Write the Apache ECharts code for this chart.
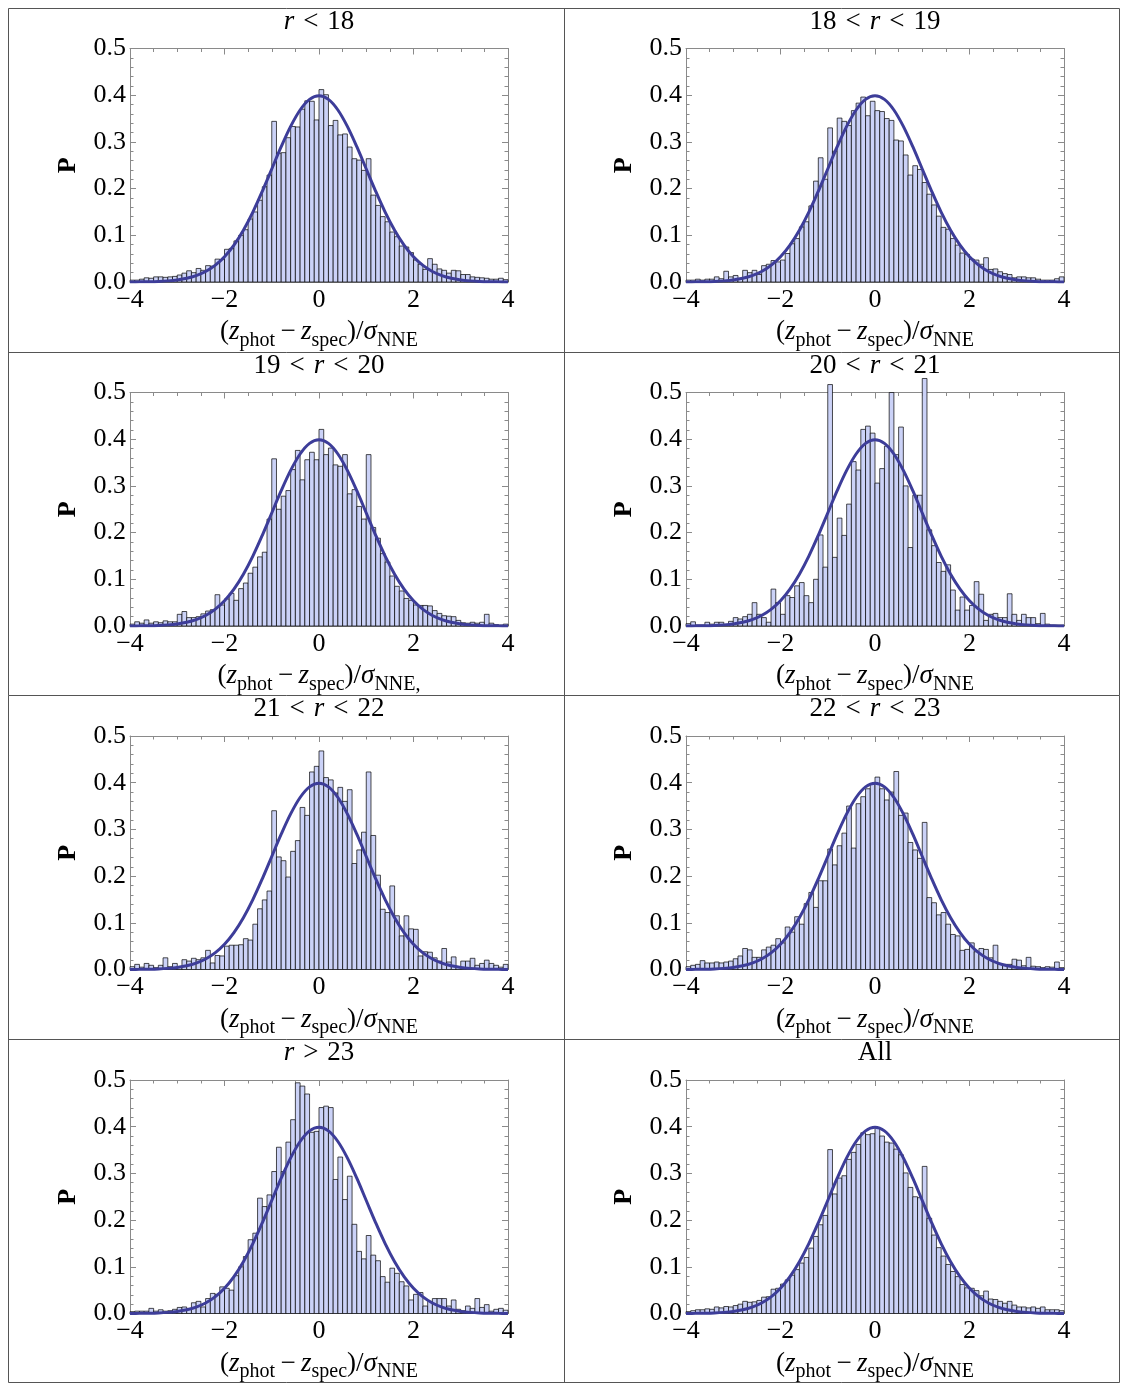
<!DOCTYPE html>
<html><head><meta charset="utf-8">
<script src="https://cdn.jsdelivr.net/npm/echarts/dist/echarts.min.js"></script>
<style>html,body{margin:0;padding:0;background:#fff}#c{width:1128px;height:1391px}</style>
</head><body><div id="c"></div>
<script>
// ---- data ----
const binStart = -4, binWidth = 0.1, binCount = 80;
const panelTitles = ['{i|r}\u2004<\u200418', '18\u2004<\u2004{i|r}\u2004<\u200419', '19\u2004<\u2004{i|r}\u2004<\u200420', '20\u2004<\u2004{i|r}\u2004<\u200421',
                     '21\u2004<\u2004{i|r}\u2004<\u200422', '22\u2004<\u2004{i|r}\u2004<\u200423', '{i|r}\u2004>\u200423', 'All'];
const xLabelSuffix = ['', '', ',', '', '', '', '', ''];
const xTicks = [-4, -2, 0, 2, 4];
const yTicks = [0, 0.1, 0.2, 0.3, 0.4, 0.5];

const histR18 = [
0.004,0.004,0.006,0.009,0.008,0.011,0.011,0.010,0.011,0.012,
0.015,0.019,0.024,0.020,0.029,0.025,0.035,0.034,0.049,0.048,
0.070,0.072,0.088,0.100,0.112,0.135,0.150,0.175,0.204,0.229,
0.344,0.276,0.277,0.309,0.333,0.332,0.370,0.388,0.387,0.347,
0.412,0.401,0.335,0.346,0.315,0.317,0.289,0.264,0.261,0.239,
0.264,0.186,0.164,0.140,0.129,0.107,0.097,0.077,0.075,0.063,
0.047,0.038,0.027,0.050,0.038,0.028,0.025,0.019,0.025,0.024,
0.016,0.016,0.011,0.010,0.009,0.008,0.006,0.006,0.008,0.005];
const histR18to19 = [
0.004,0.004,0.006,0.004,0.006,0.006,0.011,0.007,0.023,0.011,
0.014,0.007,0.025,0.020,0.025,0.016,0.035,0.038,0.046,0.043,
0.047,0.061,0.082,0.093,0.118,0.129,0.163,0.216,0.266,0.220,
0.330,0.280,0.351,0.344,0.335,0.367,0.383,0.396,0.356,0.387,
0.367,0.365,0.350,0.346,0.304,0.302,0.272,0.229,0.249,0.241,
0.213,0.188,0.165,0.141,0.117,0.113,0.093,0.079,0.062,0.059,
0.049,0.047,0.038,0.052,0.027,0.028,0.022,0.018,0.016,0.009,
0.011,0.011,0.009,0.009,0.006,0.004,0.004,0.004,0.007,0.011];
const histR19to20 = [
0.004,0.009,0.006,0.013,0.006,0.009,0.007,0.011,0.009,0.009,
0.025,0.031,0.018,0.018,0.020,0.026,0.032,0.035,0.067,0.045,
0.058,0.070,0.055,0.080,0.092,0.113,0.126,0.148,0.158,0.229,
0.358,0.250,0.278,0.290,0.335,0.376,0.313,0.356,0.372,0.356,
0.421,0.367,0.381,0.345,0.342,0.367,0.283,0.292,0.256,0.229,
0.367,0.211,0.188,0.155,0.137,0.107,0.085,0.075,0.059,0.055,
0.045,0.044,0.044,0.043,0.033,0.027,0.022,0.021,0.020,0.012,
0.007,0.006,0.008,0.006,0.008,0.025,0.006,0.003,0.002,0.004];
const histR20to21 = [
0.005,0.009,0.002,0.002,0.008,0.004,0.008,0.008,0.003,0.010,
0.018,0.015,0.020,0.025,0.050,0.025,0.018,0.008,0.079,0.050,
0.025,0.065,0.061,0.086,0.093,0.065,0.050,0.100,0.195,0.126,
0.517,0.147,0.231,0.194,0.261,0.352,0.334,0.421,0.428,0.413,
0.306,0.337,0.385,0.500,0.367,0.426,0.300,0.168,0.280,0.280,
0.530,0.206,0.172,0.136,0.117,0.131,0.077,0.034,0.062,0.034,
0.044,0.095,0.068,0.012,0.025,0.027,0.018,0.018,0.069,0.025,
0.012,0.025,0.018,0.018,0.005,0.027,0.004,0.002,0.002,0.002];
const histR21to22 = [
0.006,0.011,0.005,0.013,0.009,0.004,0.009,0.025,0.006,0.013,
0.006,0.021,0.018,0.024,0.021,0.025,0.041,0.014,0.030,0.029,
0.050,0.052,0.052,0.053,0.066,0.063,0.097,0.130,0.149,0.168,
0.340,0.241,0.233,0.198,0.253,0.276,0.347,0.330,0.423,0.435,
0.468,0.411,0.406,0.378,0.390,0.360,0.385,0.227,0.256,0.294,
0.423,0.287,0.202,0.129,0.122,0.179,0.115,0.072,0.115,0.087,
0.086,0.029,0.038,0.037,0.025,0.018,0.045,0.016,0.027,0.005,
0.018,0.018,0.024,0.009,0.013,0.020,0.013,0.009,0.005,0.011];
const histR22to23 = [
0.006,0.009,0.011,0.019,0.014,0.014,0.016,0.014,0.016,0.018,
0.023,0.029,0.045,0.042,0.026,0.026,0.042,0.048,0.052,0.066,
0.057,0.091,0.080,0.113,0.097,0.141,0.165,0.133,0.190,0.190,
0.258,0.224,0.265,0.292,0.350,0.260,0.355,0.370,0.387,0.398,
0.412,0.387,0.363,0.380,0.424,0.330,0.335,0.272,0.256,0.238,
0.315,0.154,0.143,0.117,0.122,0.097,0.075,0.072,0.041,0.043,
0.057,0.038,0.045,0.043,0.025,0.052,0.012,0.011,0.011,0.022,
0.020,0.008,0.026,0.007,0.006,0.004,0.006,0.005,0.016,0.004];
const histR23 = [
0.004,0.005,0.005,0.005,0.011,0.005,0.008,0.005,0.006,0.009,
0.013,0.014,0.009,0.023,0.026,0.014,0.032,0.043,0.041,0.057,
0.054,0.050,0.081,0.100,0.122,0.158,0.172,0.247,0.229,0.254,
0.304,0.356,0.304,0.367,0.415,0.494,0.487,0.470,0.388,0.390,
0.441,0.444,0.441,0.287,0.335,0.244,0.294,0.191,0.133,0.117,
0.167,0.125,0.113,0.079,0.067,0.097,0.086,0.068,0.059,0.029,
0.041,0.045,0.016,0.026,0.032,0.032,0.032,0.016,0.029,0.009,
0.006,0.016,0.011,0.032,0.013,0.019,0.005,0.009,0.011,0.007];
const histAll = [
0.004,0.006,0.008,0.008,0.010,0.009,0.014,0.012,0.015,0.014,
0.017,0.020,0.026,0.024,0.025,0.028,0.035,0.036,0.052,0.054,
0.063,0.072,0.082,0.094,0.108,0.120,0.140,0.165,0.190,0.210,
0.351,0.256,0.290,0.295,0.330,0.345,0.362,0.387,0.383,0.385,
0.398,0.380,0.367,0.365,0.352,0.340,0.301,0.270,0.250,0.248,
0.315,0.204,0.168,0.141,0.123,0.105,0.090,0.079,0.062,0.055,
0.054,0.049,0.038,0.048,0.031,0.030,0.026,0.022,0.026,0.018,
0.014,0.014,0.012,0.014,0.011,0.014,0.008,0.008,0.008,0.006];

const curveX = [-4.0,-3.8,-3.6,-3.4,-3.2,-3.0,-2.8,-2.6,-2.4,-2.2,-2.0,-1.8,-1.6,-1.4,-1.2,-1.0,-0.8,-0.6,-0.4,-0.2,
                0.0,0.2,0.4,0.6,0.8,1.0,1.2,1.4,1.6,1.8,2.0,2.2,2.4,2.6,2.8,3.0,3.2,3.4,3.6,3.8,4.0];
const curveY = [0.0001,0.0003,0.0006,0.0012,0.0024,0.0044,0.0079,0.0136,0.0224,0.0355,0.0540,0.0790,0.1109,0.1497,0.1942,0.2420,0.2897,0.3332,0.3683,0.3910,
                0.3989,0.3910,0.3683,0.3332,0.2897,0.2420,0.1942,0.1497,0.1109,0.0790,0.0540,0.0355,0.0224,0.0136,0.0079,0.0044,0.0024,0.0012,0.0006,0.0003,0.0001];

const panelHists = [histR18, histR18to19, histR19to20, histR20to21, histR21to22, histR22to23, histR23, histAll];

// ---- layout / style ----
const FONT = 'Liberation Serif';
const colLeft = [130, 686], plotW = 378;
const rowTop = [48.5, 392.5, 736, 1080], plotH = 233.5;
const frameColor = '#8a8a8a';
const barFill = '#cbd2f7';
const curveColor = '#3d3d99';

const chart = echarts.init(document.getElementById('c'), null, {renderer: 'canvas'});
const option = {animation: false, backgroundColor: '#fff', grid: [], xAxis: [], yAxis: [], series: [], graphic: []};

function axisCommon() {
  return {
    axisLine: {show: true, onZero: false, lineStyle: {color: frameColor, width: 1}},
    splitLine: {show: false}, minorSplitLine: {show: false}
  };
}

panelHists.forEach((vals, k) => {
  const r = Math.floor(k / 2), c = k % 2;
  option.grid.push({left: colLeft[c], top: rowTop[r], width: plotW, height: plotH});
  const xBase = {gridIndex: k, type: 'value', min: xTicks[0], max: xTicks[xTicks.length - 1], interval: xTicks[1] - xTicks[0],
    axisTick: {show: true, inside: true, length: 6, lineStyle: {color: frameColor}},
    minorTick: {show: true, splitNumber: 4, length: 3.5, lineStyle: {color: frameColor}}, ...axisCommon()};
  option.xAxis.push(Object.assign({}, xBase, {position: 'bottom',
    axisLabel: {show: true, margin: 5, fontFamily: FONT, fontSize: 26, color: '#000', showMinLabel: true, showMaxLabel: true,
      formatter: v => String(v).replace('-', '\u2212')}}));
  option.xAxis.push(Object.assign({}, xBase, {position: 'top', axisLabel: {show: false}}));
  const yBase = {gridIndex: k, type: 'value', min: yTicks[0], max: yTicks[yTicks.length - 1], interval: yTicks[1] - yTicks[0],
    axisTick: {show: true, inside: true, length: 6, lineStyle: {color: frameColor}},
    minorTick: {show: true, splitNumber: 5, length: 3.5, lineStyle: {color: frameColor}}, ...axisCommon()};
  option.yAxis.push(Object.assign({}, yBase, {position: 'left',
    axisLabel: {show: true, margin: 4, fontFamily: FONT, fontSize: 26, color: '#000', showMinLabel: true, showMaxLabel: true,
      formatter: v => v.toFixed(1)}}));
  option.yAxis.push(Object.assign({}, yBase, {position: 'right', axisLabel: {show: false}}));

  const data = vals.map((v, i) => [binStart + i * binWidth, v]);
  option.series.push({
    type: 'custom', xAxisIndex: 2 * k, yAxisIndex: 2 * k, clip: false, z: 2,
    data: data,
    renderItem: (params, api) => {
      const x0 = api.value(0), v = api.value(1);
      const p0 = api.coord([x0, 0]);
      const p1 = api.coord([x0 + binWidth, v]);
      return {type: 'rect', shape: {x: p0[0], y: p1[1], width: p1[0] - p0[0], height: p0[1] - p1[1]},
        style: {fill: barFill, stroke: 'rgba(0,0,0,0.78)', lineWidth: 0.9}};
    }
  });
  option.series.push({
    type: 'line', xAxisIndex: 2 * k, yAxisIndex: 2 * k, z: 5,
    data: curveX.map((x, i) => [x, curveY[i]]),
    smooth: 0.35, showSymbol: false, symbol: 'none',
    lineStyle: {color: curveColor, width: 3}
  });

  const cx = colLeft[c] + plotW / 2;
  const top = rowTop[r];
  option.graphic.push({type: 'text', x: cx, y: top - 27, silent: true,
    style: {text: panelTitles[k], fontFamily: FONT, fontSize: 27, fill: '#000', align: 'center', verticalAlign: 'middle',
      rich: {i: {fontFamily: FONT, fontSize: 27, fontStyle: 'italic', fill: '#000'}}}});
  option.graphic.push({type: 'text', x: cx, y: top + plotH + 50, silent: true,
    style: {text: '({i|z}{s|phot}\u2009\u2212\u2009{i|z}{s|spec})/{i|\u03C3}{s|NNE' + xLabelSuffix[k] + '}',
      fontFamily: FONT, fontSize: 27, fill: '#000', align: 'center', verticalAlign: 'middle',
      rich: {i: {fontFamily: FONT, fontSize: 27, fontStyle: 'italic', fill: '#000'},
             s: {fontFamily: FONT, fontSize: 20, fill: '#000', padding: [17, 0, 0, 0]}}}});
  option.graphic.push({type: 'text', x: colLeft[c] - 62, y: top + plotH / 2, rotation: Math.PI / 2, silent: true,
    style: {text: 'P', fontFamily: FONT, fontSize: 26, fontWeight: 'bold', fill: '#000', align: 'center', verticalAlign: 'middle'}});
});

// table frame
const frame = {x0: 8.5, y0: 8.5, x1: 1119.5, y1: 1382.5, xm: 564.5, ys: [352.5, 695.5, 1039.5]};
option.graphic.push({type: 'rect', silent: true, shape: {x: frame.x0, y: frame.y0, width: frame.x1 - frame.x0, height: frame.y1 - frame.y0},
  style: {fill: 'transparent', stroke: '#555', lineWidth: 1}});
option.graphic.push({type: 'line', silent: true, shape: {x1: frame.xm, y1: frame.y0, x2: frame.xm, y2: frame.y1}, style: {stroke: '#555', lineWidth: 1}});
frame.ys.forEach(y => option.graphic.push({type: 'line', silent: true, shape: {x1: frame.x0, y1: y, x2: frame.x1, y2: y}, style: {stroke: '#555', lineWidth: 1}}));

chart.setOption(option);
</script></body></html>
